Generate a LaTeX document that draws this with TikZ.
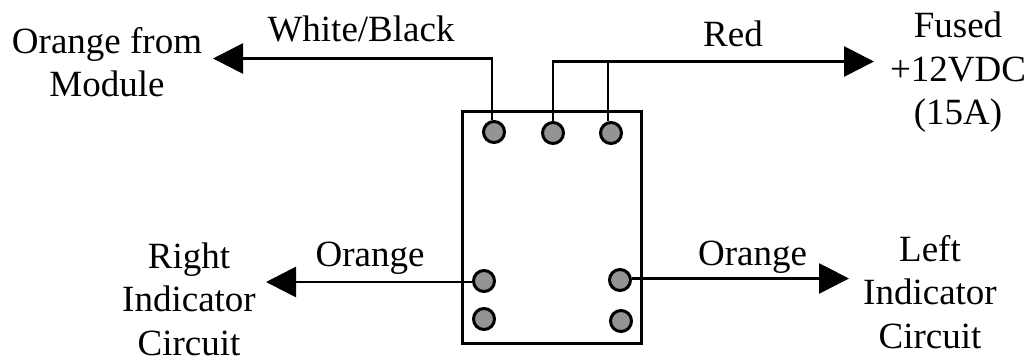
\documentclass[tikz,border=0pt]{standalone}
\usepackage{fontspec}
\setmainfont{Liberation Serif}
\usetikzlibrary{arrows.meta}
\tikzset{
  pin/.style={circle,draw=black,line width=3bp,fill=black!42,minimum size=21bp,inner sep=0pt},
  wire/.style={line width=2.8bp,draw=black},
  arr/.style={wire,-{Triangle[length=30bp,width=30bp]}},
  lbl/.style={font=\fontsize{37bp}{43.5bp}\selectfont,align=center,inner sep=0pt},
}
\begin{document}
\begin{tikzpicture}[x=1bp,y=-1bp]
\useasboundingbox (0,0) rectangle (1031,356);
\node[draw=black,line width=3bp,minimum width=179.4bp,minimum height=231.6bp,inner sep=0pt] (box) at (552,227.5) {};
\node[pin] (p1) at (494,132) {};
\node[pin] (p2) at (553,133) {};
\node[pin] (p3) at (611,133) {};
\node[pin] (p4) at (484,281) {};
\node[pin] (p5) at (484,319) {};
\node[pin] (p6) at (620,280) {};
\node[pin] (p7) at (621,321) {};
\coordinate (a1) at (213,58.5);
\coordinate (a2) at (874,61.5);
\coordinate (a3) at (266,282);
\coordinate (a4) at (849,278.5);
\draw[arr] ([xshift=-2bp]p1.north) |- (a1);
\draw[arr] (p2.north) |- (a2);
\coordinate (j) at ([xshift=-3bp]p3.north |- a2);
\draw[wire] ([xshift=-3bp]p3.north) -- (j);
\draw[arr] (p4.west |- a3) -- (a3);
\draw[arr] (p6.east |- a4) -- (a4);
\node[lbl] (t1) at (107,62) {Orange from\\Module};
\node[lbl] (t2) at (361,29) {White/Black};
\node[lbl] (t3) at (733,34) {Red};
\node[lbl] (t4) at (958,72.5) {Fused\\+12VDC\\(15A)};
\node[lbl] (t5) at (189,299) {Right\\Indicator\\Circuit};
\node[lbl] (t6) at (370,258) {Orange};
\node[lbl] (t7) at (752.5,257) {Orange};
\node[lbl] (t8) at (930,292) {Left\\Indicator\\Circuit};
\end{tikzpicture}
\end{document}
